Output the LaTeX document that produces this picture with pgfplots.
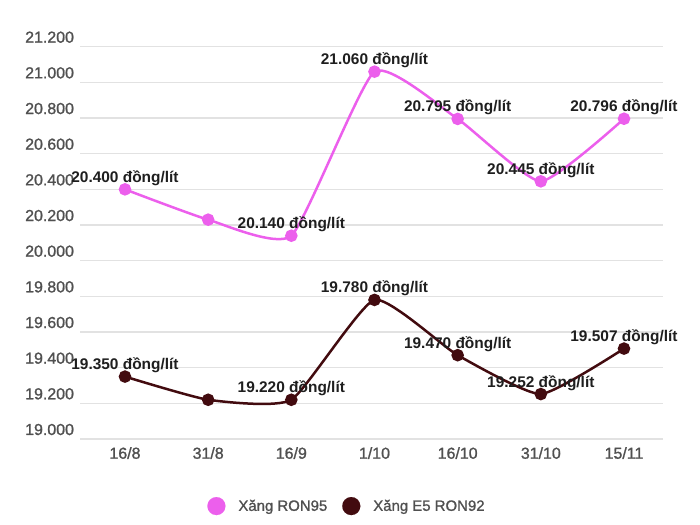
\documentclass[border=0pt]{standalone}
\usepackage{pgfplots}
\pgfplotsset{compat=1.18}
\usepackage{pgfplotstable}
\usepackage{fontspec}
\setmainfont{Liberation Sans}
\newfontfamily\medfont[FakeBold=1.2]{Liberation Sans}
\definecolor{cpink}{HTML}{EC5FEC}
\definecolor{cdark}{HTML}{420B0F}
\definecolor{ctick}{HTML}{505050}
\definecolor{cgrid}{HTML}{E2E2E2}
\definecolor{clabel}{HTML}{1E1E1E}
\pgfplotstableread{
x y label
0 20400 {20.400 đồng/lít}
1 20230 {}
2 20140 {20.140 đồng/lít}
3 21060 {21.060 đồng/lít}
4 20795 {20.795 đồng/lít}
5 20445 {20.445 đồng/lít}
6 20796 {20.796 đồng/lít}
}\ronA
\pgfplotstableread{
x y label
0 19350 {19.350 đồng/lít}
1 19220 {}
2 19220 {19.220 đồng/lít}
3 19780 {19.780 đồng/lít}
4 19470 {19.470 đồng/lít}
5 19252 {19.252 đồng/lít}
6 19507 {19.507 đồng/lít}
}\ronB
\begin{document}
\begin{tikzpicture}
\useasboundingbox (0bp,0bp) rectangle (700bp,525bp);
\begin{axis}[
  at={(80bp,86bp)}, anchor=south west,
  width=583bp, height=392.3bp, scale only axis,
  xmin=-0.541, xmax=6.469, ymin=19000, ymax=21200,
  axis line style={draw=none}, major tick length=0pt,
  ymajorgrids, grid style={cgrid, line width=1.5bp},
  xtick={0,...,6},
  xticklabels={16/8,31/8,16/9,1/10,16/10,31/10,15/11},
  ytick={19000,19200,...,21200},
  scaled y ticks=false,
  /pgf/number format/assume math mode=true,
  yticklabel={\pgfmathprintnumber[fixed,1000 sep={.}]{\tick}},
  yticklabel style={anchor=base west, inner sep=0pt, xshift=-55bp, yshift=4bp,
    font=\medfont\fontsize{16}{18}\selectfont, text=ctick},
  xticklabel style={anchor=north, inner sep=0pt, yshift=-8bp,
    font=\medfont\fontsize{16}{18}\selectfont, text=ctick},
  clip=false,
  legend style={at={(0.458,-0.171)}, anchor=center, draw=none, fill=none,
    font=\medfont\fontsize{15}{18}\selectfont, text=ctick,
    /tikz/every odd column/.append style={column sep=11bp},
    /tikz/every even column/.append style={column sep=13bp}},
  legend columns=2,
  legend cell align=left,
]
\addplot[cpink, line width=2.5bp, smooth, tension=0.3, mark=*, mark size=5bp,
  mark options={fill=cpink, draw=none},
  nodes near coords, point meta=explicit symbolic,
  every node near coord/.style={anchor=base, yshift=7bp, inner sep=0pt,
    font=\bfseries\fontsize{15.5}{18}\selectfont, text=clabel},
  forget plot] table[x=x,y=y,meta=label]{\ronA};
\addplot[cdark, line width=2.5bp, smooth, tension=0.3, mark=*, mark size=5bp,
  mark options={fill=cdark, draw=none},
  nodes near coords, point meta=explicit symbolic,
  every node near coord/.style={anchor=base, yshift=7bp, inner sep=0pt,
    font=\bfseries\fontsize{15.5}{18}\selectfont, text=clabel},
  forget plot] table[x=x,y=y,meta=label]{\ronB};
\addlegendimage{only marks, color=cpink, mark=*, mark size=9bp, mark options={fill=cpink, draw=cpink, line width=0.1bp}}
\addlegendentry{Xăng RON95}
\addlegendimage{only marks, color=cdark, mark=*, mark size=9bp, mark options={fill=cdark, draw=cdark, line width=0.1bp}}
\addlegendentry{Xăng E5 RON92}
\end{axis}
\end{tikzpicture}
\end{document}
